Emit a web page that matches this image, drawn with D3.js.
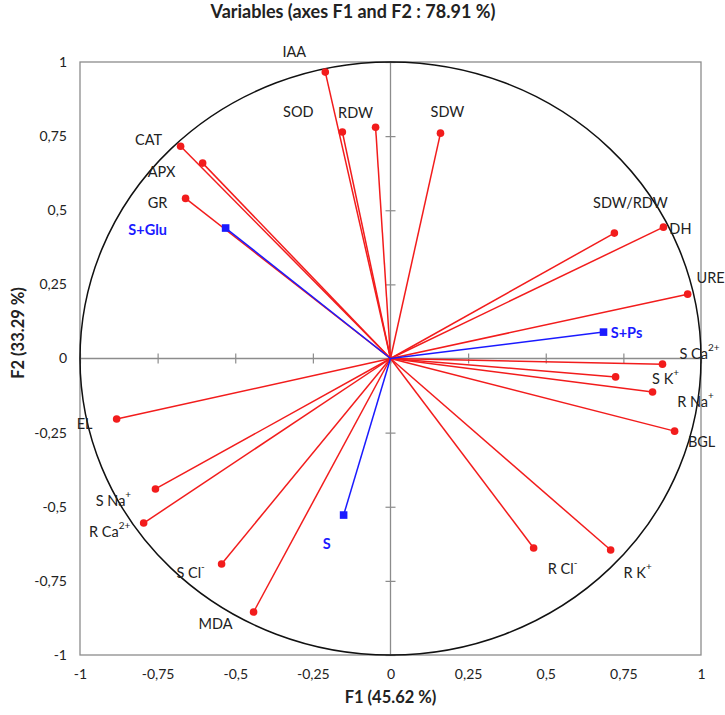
<!DOCTYPE html>
<html>
<head>
<meta charset="utf-8">
<script src="https://cdn.jsdelivr.net/npm/d3@7"></script>
<style>
  body { margin: 0; background: #fff; }
  text { font-family: Lato, "Open Sans", sans-serif; }
</style>
</head>
<body>
<svg id="chart" width="725" height="715"></svg>
<script>
// variables (red) : name, F1, F2
var varNames = ["IAA","SOD","RDW","SDW","CAT","APX","GR","SDW/RDW","DH","URE",
                "S Ca|2+","S K|+","R Na|+","BGL","EL","S Na|+","R Ca|2+","S Cl|-","MDA","R Cl|-","R K|+"];
var varF1 = [-0.21,-0.155,-0.048,0.161,-0.676,-0.605,-0.66,0.721,0.879,0.957,
             0.876,0.725,0.844,0.915,-0.882,-0.757,-0.795,-0.544,-0.441,0.461,0.709];
var varF2 = [0.966,0.764,0.78,0.76,0.716,0.659,0.54,0.423,0.443,0.217,
             -0.019,-0.062,-0.113,-0.245,-0.204,-0.44,-0.555,-0.693,-0.855,-0.639,-0.646];

// supplementary (blue)
var supNames = ["S+Glu","S+Ps","S"];
var supF1 = [-0.531,0.686,-0.151];
var supF2 = [0.44,0.089,-0.528];

var tickVals = [-1,-0.75,-0.5,-0.25,0,0.25,0.5,0.75,1];

// label offsets from the point, px (layout only)
var labelOff = {
  "IAA":[-31,-21], "SOD":[-44,-21], "RDW":[-20,-15], "SDW":[7,-22], "CAT":[-32,-7],
  "APX":[-41,8], "GR":[-28,4], "SDW/RDW":[16,-31], "DH":[17,1], "URE":[23,-17],
  "S Ca|2+":[37,-11], "S K|+":[50,1], "R Na|+":[43,9], "BGL":[27,10], "EL":[-32,4],
  "S Na|+":[-42,11], "R Ca|2+":[-34,8], "S Cl|-":[-31,8], "MDA":[-38,11],
  "R Cl|-":[29,20], "R K|+":[27,22],
  "S+Glu":[-78,1], "S+Ps":[23,0], "S":[-17,28]
};

var svg = d3.select("#chart");
var red = "#f21c1c", blue = "#1a1aff", grey = "#8c8c8c";

var x = d3.scaleLinear().domain([-1,1]).range([80,701]);
var y = d3.scaleLinear().domain([-1,1]).range([655,62]);

var loc = d3.formatLocale({decimal:",", thousands:" ", grouping:[3], currency:["",""], minus:"-"});
var fmt = loc.format("~g");

// title
svg.append("text")
   .attr("x", 353).attr("y", 18)
   .attr("text-anchor","middle")
   .attr("font-size", 18).attr("font-weight","bold").attr("fill","#222")
   .text("Variables (axes F1 and F2 : 78.91 %)");

// frame
svg.append("rect")
   .attr("x", x(-1)).attr("y", y(1))
   .attr("width", x(1)-x(-1)).attr("height", y(-1)-y(1))
   .attr("fill","none").attr("stroke", grey).attr("stroke-width",1.3);

// tick labels
var xAx = svg.append("g").attr("transform","translate(0,"+y(-1)+")")
   .call(d3.axisBottom(x).tickValues(tickVals).tickFormat(fmt).tickSize(0).tickPadding(14));
var yAx = svg.append("g").attr("transform","translate("+x(-1)+",0)")
   .call(d3.axisLeft(y).tickValues(tickVals).tickFormat(fmt).tickSize(0).tickPadding(13));
[xAx,yAx].forEach(function(g){
   g.select(".domain").remove();
   g.selectAll("text").attr("font-size",14).attr("fill","#222")
    .style("font-family","Lato, 'Open Sans', sans-serif");
});

// zero axes with crossing ticks
var zx = svg.append("g").attr("transform","translate(0,"+(y(0)-5)+")")
   .call(d3.axisBottom(x).tickValues(tickVals).tickSize(10).tickFormat(""));
var zy = svg.append("g").attr("transform","translate("+(x(0)+5)+",0)")
   .call(d3.axisLeft(y).tickValues(tickVals).tickSize(10).tickFormat(""));
[zx,zy].forEach(function(g){
   g.select(".domain").remove();
   g.selectAll("line").attr("stroke",grey).attr("stroke-width",1.2);
});
svg.append("line").attr("x1",x(-1)).attr("x2",x(1)).attr("y1",y(0)).attr("y2",y(0))
   .attr("stroke",grey).attr("stroke-width",1.3);
svg.append("line").attr("x1",x(0)).attr("x2",x(0)).attr("y1",y(-1)).attr("y2",y(1))
   .attr("stroke",grey).attr("stroke-width",1.3);

// axis titles
svg.append("text")
   .attr("x", x(0)).attr("y", 703)
   .attr("text-anchor","middle").attr("font-size",16.5).attr("font-weight","bold").attr("fill","#222")
   .text("F1 (45.62 %)");
svg.append("text")
   .attr("transform","translate(24,333) rotate(-90)")
   .attr("text-anchor","middle").attr("font-size",16.5).attr("font-weight","bold").attr("fill","#222")
   .text("F2 (33.29 %)");

// correlation circle
svg.append("ellipse")
   .attr("cx", x(0)).attr("cy", y(0))
   .attr("rx", x(1)-x(0)).attr("ry", y(0)-y(1))
   .attr("fill","none").attr("stroke","#111").attr("stroke-width",1.5);

var vars = varNames.map(function(n,i){ return {name:n, f1:varF1[i], f2:varF2[i]}; });
var sups = supNames.map(function(n,i){ return {name:n, f1:supF1[i], f2:supF2[i]}; });

// vectors
svg.append("g").selectAll("line").data(vars).join("line")
   .attr("x1",x(0)).attr("y1",y(0))
   .attr("x2",function(d){ return x(d.f1); }).attr("y2",function(d){ return y(d.f2); })
   .attr("stroke",red).attr("stroke-width",1.5);
svg.append("g").selectAll("line").data(sups).join("line")
   .attr("x1",x(0)).attr("y1",y(0))
   .attr("x2",function(d){ return x(d.f1); }).attr("y2",function(d){ return y(d.f2); })
   .attr("stroke",blue).attr("stroke-width",1.5);

svg.append("g").selectAll("circle").data(vars).join("circle")
   .attr("cx",function(d){ return x(d.f1); }).attr("cy",function(d){ return y(d.f2); })
   .attr("r",3.8).attr("fill",red);
svg.append("g").selectAll("rect").data(sups).join("rect")
   .attr("x",function(d){ return x(d.f1)-3.8; }).attr("y",function(d){ return y(d.f2)-3.8; })
   .attr("width",7.6).attr("height",7.6).attr("fill",blue);

// labels
function addLabel(sel, color, bold){
   sel.each(function(d){
      var o = labelOff[d.name] || [0,0];
      var parts = d.name.split("|");
      var t = d3.select(this)
         .attr("x", x(d.f1)+o[0]).attr("y", y(d.f2)+o[1])
         .attr("text-anchor","middle").attr("dominant-baseline","central")
         .attr("font-size",14.5).attr("fill",color)
         .attr("font-weight", bold ? "bold" : "normal");
      t.append("tspan").text(parts[0]);
      if (parts[1]) {
         t.append("tspan").attr("dy",-6).attr("font-size",10).text(parts[1]);
      }
   });
}
svg.append("g").selectAll("text").data(vars).join("text").call(addLabel, "#222", false);
svg.append("g").selectAll("text").data(sups).join("text").call(addLabel, blue, true);
</script>
</body>
</html>
